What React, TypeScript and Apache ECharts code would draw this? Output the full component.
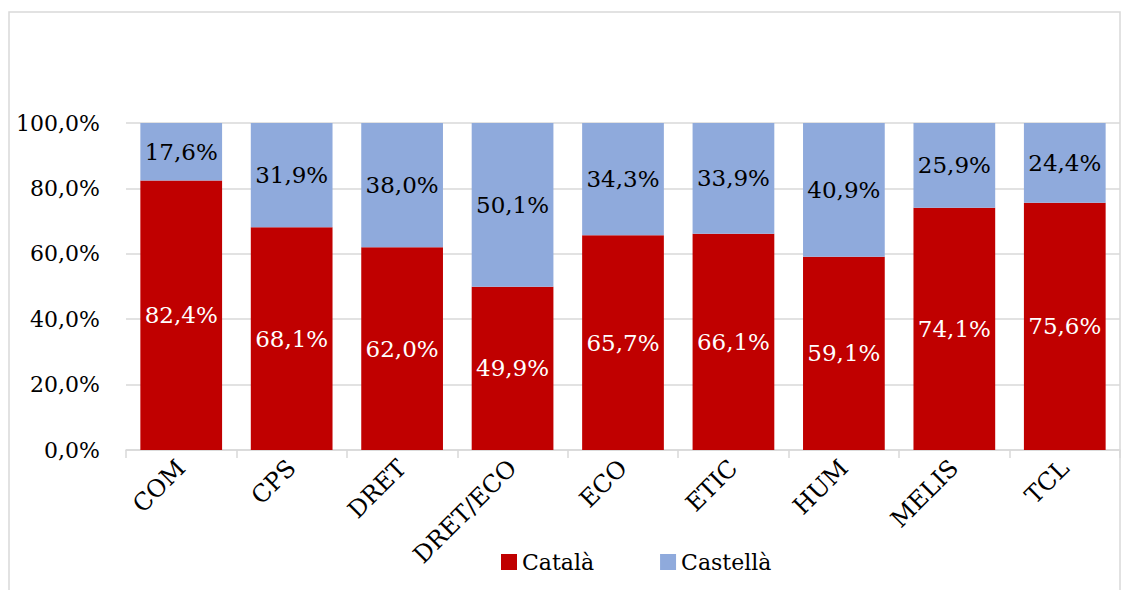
import React, { useEffect, useRef } from "react";
import * as echarts from "echarts";

const categories = ["COM", "CPS", "DRET", "DRET/ECO", "ECO", "ETIC", "HUM", "MELIS", "TCL"];
const catalaValues = [82.4, 68.1, 62.0, 49.9, 65.7, 66.1, 59.1, 74.1, 75.6];
const castellaValues = [17.6, 31.9, 38.0, 50.1, 34.3, 33.9, 40.9, 25.9, 24.4];
const seriesNames = ["Català", "Castellà"];

const FONT = "'DejaVu Serif', 'Liberation Serif', serif";
const fmt = (v: number) => v.toFixed(1).replace(".", ",") + "%";

export default function App() {
  const ref = useRef<HTMLDivElement>(null);
  useEffect(() => {
    if (!ref.current) return;
    const chart = echarts.init(ref.current, undefined, { renderer: "svg" });
    chart.setOption({
      animation: false,
      textStyle: { fontFamily: FONT },
      graphic: [
        {
          type: "rect",
          shape: { x: 9, y: 12, width: 1111, height: 620 },
          style: { fill: "none", stroke: "#D9D9D9", lineWidth: 1.5 },
          silent: true,
        },
      ],
      grid: { left: 126, right: 4, top: 123, bottom: 140, containLabel: false },
      legend: {
        bottom: 12,
        left: 496,
        itemWidth: 16,
        itemHeight: 16,
        itemGap: 66,
        icon: "rect",
        textStyle: { fontFamily: FONT, fontSize: 22, color: "#000" },
        data: seriesNames,
      },
      xAxis: {
        type: "category",
        data: categories,
        axisLine: { lineStyle: { color: "#D9D9D9", width: 1.5 } },
        axisTick: { show: true, length: 8, lineStyle: { color: "#D9D9D9", width: 1.5 } },
        axisLabel: {
          rotate: 45,
          margin: 14,
          interval: 0,
          fontFamily: FONT,
          fontSize: 24,
          color: "#000",
        },
      },
      yAxis: {
        type: "value",
        min: 0,
        max: 100,
        interval: 20,
        axisLine: { show: false },
        axisTick: { show: false },
        splitLine: { lineStyle: { color: "#D9D9D9", width: 1.5 } },
        axisLabel: {
          margin: 26,
          fontFamily: FONT,
          fontSize: 22,
          color: "#000",
          formatter: (v: number) => fmt(v),
        },
      },
      series: [
        {
          name: seriesNames[0],
          type: "bar",
          stack: "total",
          data: catalaValues,
          barWidth: "74%",
          itemStyle: { color: "#C00000" },
          label: {
            show: true,
            position: "inside",
            color: "#FFFFFF",
            fontFamily: FONT,
            fontSize: 23,
            formatter: (p: any) => fmt(p.value),
          },
        },
        {
          name: seriesNames[1],
          type: "bar",
          stack: "total",
          data: castellaValues,
          barWidth: "74%",
          itemStyle: { color: "#8FAADC" },
          label: {
            show: true,
            position: "inside",
            color: "#000000",
            fontFamily: FONT,
            fontSize: 23,
            formatter: (p: any) => fmt(p.value),
          },
        },
      ],
    });
    return () => chart.dispose();
  }, []);
  return (
    <div
      ref={ref}
      style={{ position: "absolute", left: 0, top: 0, width: 1124, height: 590, background: "#fff" }}
    />
  );
}
